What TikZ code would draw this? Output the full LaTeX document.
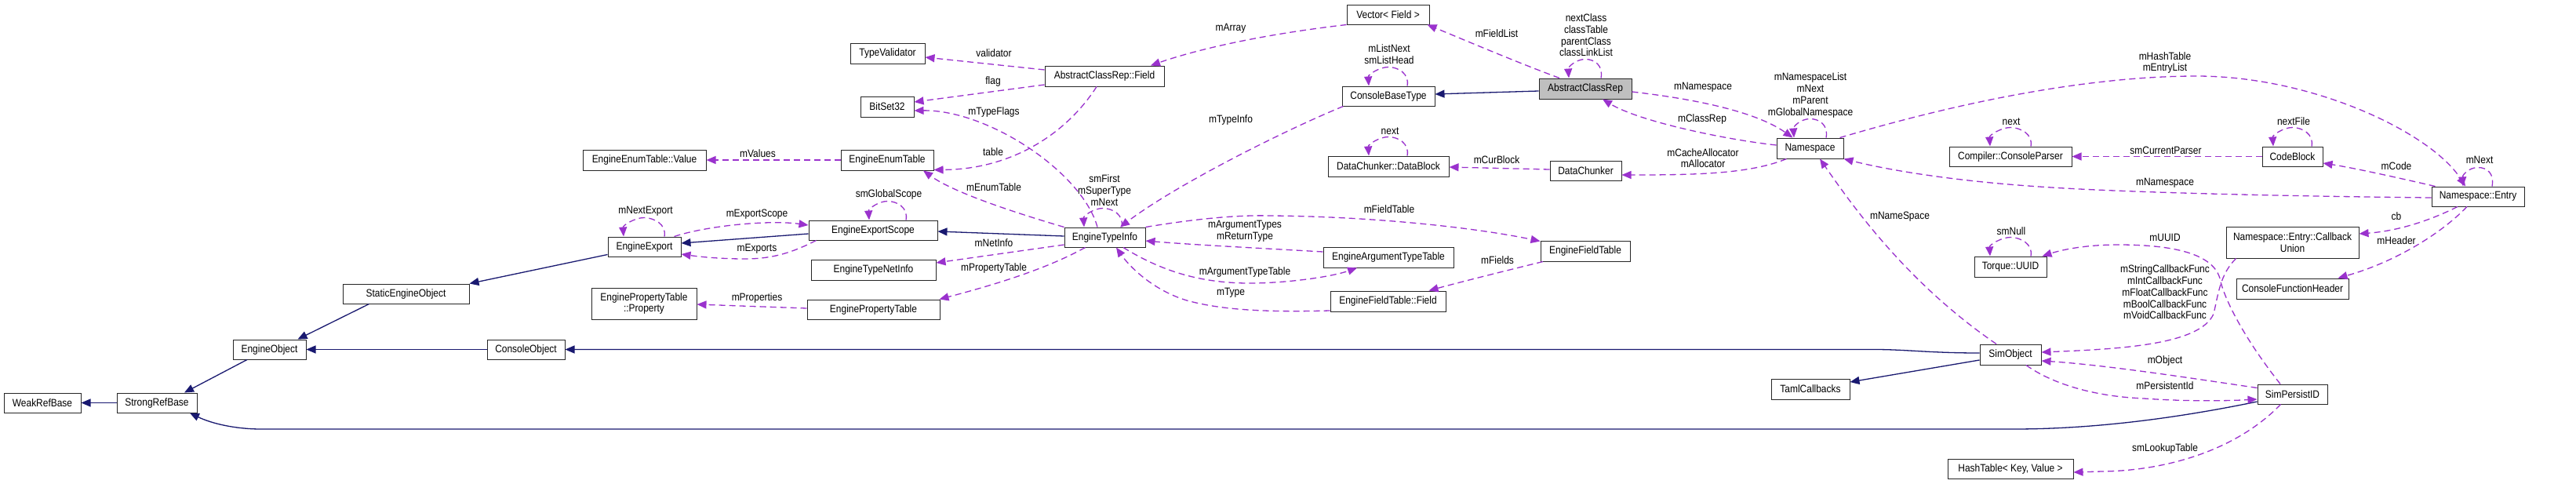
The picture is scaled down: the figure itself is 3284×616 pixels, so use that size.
\documentclass[tikz,border=0pt]{standalone}
\usepackage{fontspec}
\setmainfont{Liberation Sans}[FakeStretch=0.88]
\usetikzlibrary{arrows.meta}
\definecolor{navy}{HTML}{191970}
\definecolor{orch}{HTML}{9A32CD}
\definecolor{boxgray}{HTML}{BFBFBF}
\tikzset{
  cls/.style={draw=black!85, line width=1pt, fill=white, inner sep=0pt, font=\fontsize{13.6}{14.7}\selectfont, align=center},
  inhedge/.style={draw=navy, line width=1.3pt, -{Triangle[length=12pt,width=10pt]}},
  usedge/.style={draw=orch, line width=1.3pt, dash pattern=on 8pt off 5pt, -{Triangle[length=12pt,width=10pt]}},
  lbl/.style={font=\fontsize{13.6}{14.7}\selectfont, align=center, inner sep=0pt},
}
\newcommand{\mkcls}[7][]{\node[cls,#1,minimum width={(#5-#3)*1pt},minimum height={(#6-#4)*1pt}] (#2) at ({(#3+#5)/2},{(#4+#6)/2}) {#7};}
\newcommand{\sloop}[4]{\draw[usedge] ([xshift=#3pt]#1.north) .. controls +(3,-16) and +(12,0) .. ([xshift=#4pt,yshift=24pt]#1.north) .. controls +(-12,0) and +(-1,-14) .. ([xshift=#2pt]#1.north);}
\begin{document}
\begin{tikzpicture}[x=1pt,y=-1pt]
\useasboundingbox[fill=white] (0,0) rectangle (3284,616);
% classes
\mkcls{wrb}{5}{501}{103}{526}{WeakRefBase}
\mkcls{srb}{149}{501}{251}{526}{StrongRefBase}
\mkcls{eo}{297}{433}{390}{458}{EngineObject}
\mkcls{seo}{437}{362}{598}{387}{StaticEngineObject}
\mkcls{co}{621}{433}{720}{458}{ConsoleObject}
\mkcls{eetv}{743}{191}{900}{217}{EngineEnumTable::Value}
\mkcls{ee}{775}{302}{868}{327}{EngineExport}
\mkcls{ept}{754}{367}{888}{407}{EnginePropertyTable\\::Property}
\mkcls{tv}{1084}{55}{1179}{81}{TypeValidator}
\mkcls{bs}{1097}{123}{1165}{149}{BitSet32}
\mkcls{eet}{1072}{191}{1190}{217}{EngineEnumTable}
\mkcls{ees}{1031}{281}{1195}{306}{EngineExportScope}
\mkcls{etni}{1034}{331}{1193}{357}{EngineTypeNetInfo}
\mkcls{eptab}{1029}{382}{1198}{407}{EnginePropertyTable}
\mkcls{acrf}{1332}{84}{1484}{110}{AbstractClassRep::Field}
\mkcls{eti}{1357}{290}{1460}{315}{EngineTypeInfo}
\mkcls{vf}{1717}{6}{1822}{31}{Vector< Field >}
\mkcls{cbt}{1711}{110}{1829}{135}{ConsoleBaseType}
\mkcls{db}{1693}{199}{1847}{225}{DataChunker::DataBlock}
\mkcls{eatt}{1687}{315}{1853}{341}{EngineArgumentTypeTable}
\mkcls{eftf}{1696}{371}{1843}{397}{EngineFieldTable::Field}
\mkcls[fill=boxgray]{acr}{1962}{100}{2080}{126}{AbstractClassRep}
\mkcls{dc}{1976}{205}{2067}{230}{DataChunker}
\mkcls{eft}{1964}{307}{2078}{333}{EngineFieldTable}
\mkcls{ns}{2265}{176}{2350}{202}{Namespace}
\mkcls{tc}{2258}{483}{2358}{509}{TamlCallbacks}
\mkcls{cp}{2485}{187}{2641}{212}{Compiler::ConsoleParser}
\mkcls{uuid}{2517}{327}{2609}{353}{Torque::UUID}
\mkcls{so}{2524}{439}{2602}{465}{SimObject}
\mkcls{ht}{2483}{585}{2643}{610}{HashTable< Key, Value >}
\mkcls{cb}{2884}{187}{2961}{212}{CodeBlock}
\mkcls{cbu}{2838}{289}{3007}{329}{Namespace::Entry::Callback\\Union}
\mkcls{cfh}{2851}{355}{2994}{381}{ConsoleFunctionHeader}
\mkcls{spid}{2878}{490}{2967}{515}{SimPersistID}
\mkcls{ne}{3100}{238}{3218}{263}{Namespace::Entry}
% inheritance
\draw[inhedge] (srb.west) -- (wrb.east);
\draw[inhedge] ([xshift=-28.5pt]eo.south) -- ([xshift=35pt]srb.north);
\draw[inhedge] ([xshift=-47pt]seo.south) -- ([xshift=36pt]eo.north);
\draw[inhedge] (co.west) -- (eo.east);
\draw[inhedge] ([yshift=3pt]ee.south west) -- (seo.north east);
\draw[inhedge] ([yshift=-4.5pt]ees.west) -- ([yshift=4.5pt]ee.east);
\draw[inhedge] ([yshift=1.5pt]eti.west) -- ([yshift=-1.5pt]ees.east);
\draw[inhedge] ([yshift=-3pt]acr.west) -- ([yshift=2.5pt]cbt.east);
\draw[inhedge] ([yshift=2pt]so.west) .. controls (2460,450) and (2430,445.5) .. (2390,445.5) -- (co.east);
\draw[inhedge] ([yshift=-7pt]so.west) -- ([yshift=9pt]tc.east);
\draw[inhedge] ([yshift=-9.5pt]spid.west) .. controls (2790,530) and (2680,547) .. (2567,547) -- (333,547) .. controls (300,547) and (270,540) .. ([xshift=42pt]srb.south);
% usage
\draw[usedge] (eet.west) -- (eetv.east);
\sloop{ee}{-26.5}{25.5}{-0.5}
\draw[usedge] ([xshift=38pt]ee.north) .. controls (900,288) and (980,280) .. ([yshift=6.5pt]ees.west);
\draw[usedge] ([xshift=10pt]ees.south west) .. controls (1010,322) and (985,330) .. (950,330) .. controls (915,330) and (890,327) .. ([yshift=-9.5pt]ee.east);
\sloop{ees}{-5}{42}{18.5}
\draw[usedge] ([yshift=8pt]acrf.west) -- ([yshift=-5pt]tv.east);
\draw[usedge] ([yshift=-11pt]acrf.west) -- ([yshift=6pt]bs.east);
\draw[usedge] ([xshift=-9.5pt]eti.north) .. controls (1380,220) and (1260,140) .. ([yshift=-5pt]bs.east);
\draw[usedge] ([xshift=-10pt]acrf.south) .. controls (1360,170) and (1290,216) .. ([yshift=1pt]eet.south east);
\draw[usedge] (eti.north west) .. controls (1290,270) and (1215,245) .. ([xshift=46pt]eet.south);
\sloop{eti}{-26.5}{21.5}{-2.5}
\draw[usedge] ([xshift=2pt]cbt.south west) .. controls (1640,165) and (1500,235) .. ([xshift=19.5pt]eti.north);
\draw[usedge] (vf.south west) .. controls (1600,45) and (1520,65) .. ([xshift=59pt]acrf.north);
\draw[usedge] ([xshift=-33pt]acr.north) .. controls (1930,78) and (1860,48) .. ([xshift=50pt]vf.south);
\sloop{acr}{-21}{20}{0}
\sloop{cbt}{-25}{24}{0}
\sloop{db}{-25}{24}{0}
\draw[usedge] ([yshift=1.5pt]dc.west) -- ([yshift=-1pt]db.east);
\draw[usedge] ([yshift=4pt]ns.west) .. controls (2200,178) and (2090,155) .. ([xshift=22pt]acr.south);
\draw[usedge] ([yshift=-4pt]acr.east) .. controls (2150,125) and (2235,140) .. ([xshift=-22pt]ns.north);
\draw[usedge] ([xshift=-30pt]ns.south) .. controls (2230,222) and (2160,223) .. ([yshift=-5.5pt]dc.east);
\sloop{ns}{-20.5}{20.5}{0}
\draw[usedge] ([xshift=38pt]ns.north) .. controls (2550,115) and (2700,97) .. (2800,97) .. controls (2950,97) and (3100,170) .. ([xshift=-16pt]ne.north);
\draw[usedge] ([yshift=-1.5pt]ne.west) .. controls (2900,250) and (2700,245) .. (2600,238) .. controls (2480,230) and (2400,215) .. (ns.south east);
\draw[usedge] (cb.west) -- (cp.east);
\sloop{cp}{-26}{26}{0}
\sloop{cb}{-24.5}{24.5}{0}
\draw[usedge] ([xshift=5pt]ne.north west) .. controls (3050,225) and (3000,214) .. ([yshift=-8.5pt]cb.east);
\sloop{ne}{-19}{18}{0}
\draw[usedge] ([xshift=-26pt]ne.south) .. controls (3090,285) and (3050,295) .. ([yshift=11pt]cbu.east);
\draw[usedge] ([xshift=-14pt]ne.south) .. controls (3110,300) and (3050,335) .. ([xshift=58pt]cfh.north);
\draw[usedge] ([xshift=-72pt]cbu.south) .. controls (2830,350) and (2828,375) .. (2822,400) .. controls (2805,440) and (2700,445) .. ([yshift=3pt]so.east);
\draw[usedge] ([yshift=8pt]spid.west) .. controls (2780,480) and (2680,465) .. ([yshift=-8pt]so.east);
\draw[usedge] ([xshift=20pt]so.south) .. controls (2610,485) and (2660,505) .. (2733,508) .. controls (2790,512) and (2840,511) .. ([yshift=-6.5pt]spid.west);
\draw[usedge] ([xshift=-15pt]spid.south) .. controls (2850,575) and (2760,600) .. (2680,601) -- ([yshift=-4.5pt]ht.east);
\draw[usedge] ([xshift=-18pt]so.north) .. controls (2430,360) and (2360,260) .. ([xshift=12.5pt]ns.south);
\sloop{uuid}{-26}{26}{0}
\draw[usedge] ([xshift=-15.5pt]spid.north) .. controls (2860,430) and (2835,380) .. (2830,355) .. controls (2820,320) and (2760,312) .. (2700,312) .. controls (2660,312) and (2630,318) .. ([xshift=-6pt]uuid.north east);
\draw[usedge] ([yshift=-9.5pt]eti.west) -- ([yshift=9pt]etni.east);
\draw[usedge] ([xshift=-25pt]eti.south) .. controls (1330,345) and (1260,365) .. ([xshift=-1pt]eptab.north east);
\draw[usedge] ([yshift=1.5pt]eptab.west) -- ([yshift=-1pt]ept.east);
\draw[usedge] (eti.north east) .. controls (1530,278) and (1580,274) .. (1620,275) .. controls (1750,276) and (1880,290) .. ([yshift=-1pt]eft.north west);
\draw[usedge] ([yshift=7pt]eatt.west) .. controls (1600,316) and (1520,312) .. ([yshift=-4.5pt]eti.east);
\draw[usedge] ([xshift=23.5pt]eti.south) .. controls (1480,345) and (1530,362) .. (1600,361) .. controls (1650,360) and (1700,352) .. ([xshift=-40pt]eatt.south);
\draw[usedge] ([yshift=-12pt]eftf.west) .. controls (1620,398) and (1560,396) .. (1513,383) .. controls (1470,370) and (1440,340) .. ([xshift=14.5pt]eti.south);
\draw[usedge] ([xshift=-54pt]eft.south) .. controls (1920,345) and (1860,360) .. ([xshift=52pt]eftf.north);
% labels
\node[lbl] (l1) at (966,196) {mValues};
\node[lbl] (l2) at (823,269) {mNextExport};
\node[lbl] (l3) at (965,273) {mExportScope};
\node[lbl] (l4) at (965,317) {mExports};
\node[lbl] (l5) at (965,380) {mProperties};
\node[lbl] (l6) at (1267,68) {validator};
\node[lbl] (l7) at (1266,104) {flag};
\node[lbl] (l8) at (1267,143) {mTypeFlags};
\node[lbl] (l9) at (1266,194) {table};
\node[lbl] (l10) at (1267,239) {mEnumTable};
\node[lbl] (l11) at (1133,248) {smGlobalScope};
\node[lbl] (l12) at (1408,242.5) {smFirst\\mSuperType\\mNext};
\node[lbl] (l13) at (1569,153) {mTypeInfo};
\node[lbl] (l14) at (1569,36) {mArray};
\node[lbl] (l15) at (1267,310) {mNetInfo};
\node[lbl] (l16) at (1267,342) {mPropertyTable};
\node[lbl] (l17) at (1587,295) {mArgumentTypes\\mReturnType};
\node[lbl] (l18) at (1587,347) {mArgumentTypeTable};
\node[lbl] (l19) at (1569,373) {mType};
\node[lbl] (l20) at (1771,267) {mFieldTable};
\node[lbl] (l21) at (1909,332) {mFields};
\node[lbl] (l22) at (1908,43) {mFieldList};
\node[lbl] (l23) at (2022,45) {nextClass\\classTable\\parentClass\\classLinkList};
\node[lbl] (l24) at (1771,69) {mListNext\\smListHead};
\node[lbl] (l25) at (1772,167) {next};
\node[lbl] (l26) at (1908,204) {mCurBlock};
\node[lbl] (l27) at (2171,111) {mNamespace};
\node[lbl] (l28) at (2170,152) {mClassRep};
\node[lbl] (l29) at (2171,201.5) {mCacheAllocator\\mAllocator};
\node[lbl] (l30) at (2308,121.5) {mNamespaceList\\mNext\\mParent\\mGlobalNamespace};
\node[lbl] (l31) at (2564,155) {next};
\node[lbl] (l32) at (2422,276) {mNameSpace};
\node[lbl] (l33) at (2564,295) {smNull};
\node[lbl] (l34) at (2760,80) {mHashTable\\mEntryList};
\node[lbl] (l35) at (2924,155) {nextFile};
\node[lbl] (l36) at (2761,192) {smCurrentParser};
\node[lbl] (l37) at (3055,212) {mCode};
\node[lbl] (l38) at (3161,204) {mNext};
\node[lbl] (l39) at (2760,233) {mNamespace};
\node[lbl] (l40) at (3055,276) {cb};
\node[lbl] (l41) at (3055,307) {mHeader};
\node[lbl] (l42) at (2760,303) {mUUID};
\node[lbl] (l43) at (2760,372.5) {mStringCallbackFunc\\mIntCallbackFunc\\mFloatCallbackFunc\\mBoolCallbackFunc\\mVoidCallbackFunc};
\node[lbl] (l44) at (2760,460) {mObject};
\node[lbl] (l45) at (2760,492) {mPersistentId};
\node[lbl] (l46) at (2760,572) {smLookupTable};
\end{tikzpicture}
\end{document}
